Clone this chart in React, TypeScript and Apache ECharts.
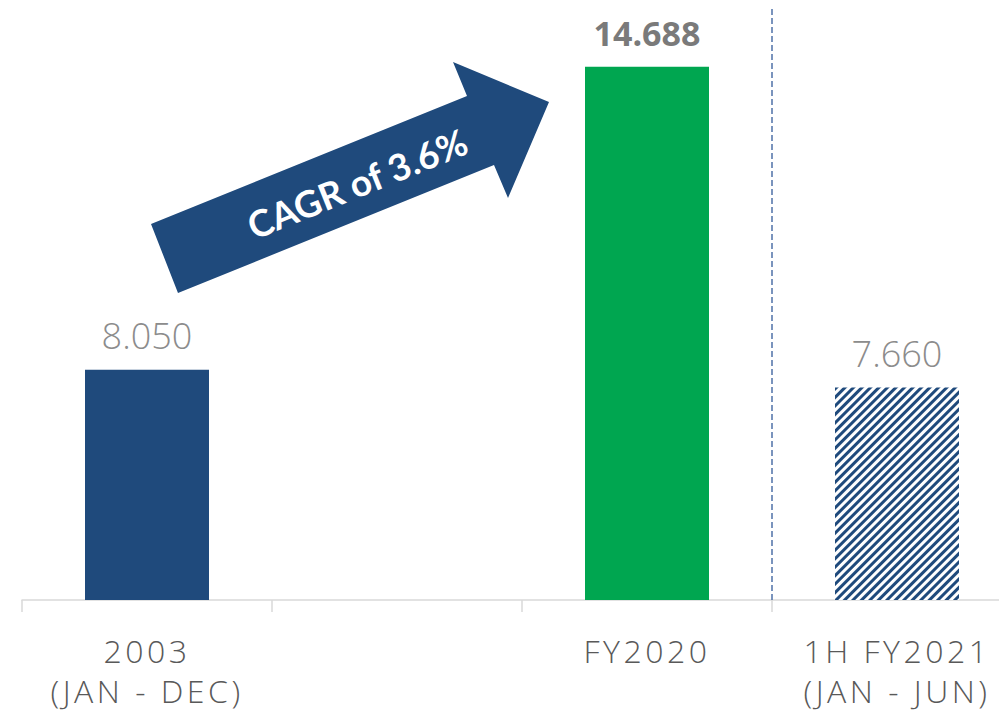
import React, { useEffect, useRef } from "react";
import * as echarts from "echarts";

const categories: string[] = ["2003\n(JAN - DEC)", "", "FY2020", "1H FY2021\n(JAN - JUN)"];
const values: (number | null)[] = [8.05, null, 14.688, 7.66];
const barKinds: string[] = ["solid", "none", "highlight", "hatched"];
const arrowText = "CAGR of 3.6%";
const dividerBefore = 3; // dashed divider sits before this category

const BLUE = "#1F4A7C";
const GREEN = "#00A650";

export default function App() {
  const ref = useRef<HTMLDivElement>(null);
  useEffect(() => {
    if (!ref.current) return;
    const chart = echarts.init(ref.current, null, { renderer: "svg" });
    const data = values.map((v, i) => {
      const kind = barKinds[i];
      if (v === null) return { value: null };
      if (kind === "highlight") {
        return {
          value: v,
          itemStyle: { color: GREEN },
          label: { fontWeight: "bold", fontSize: 34, color: "#7a7a7a", distance: 17 },
        };
      }
      if (kind === "hatched") {
        return {
          value: v,
          itemStyle: {
            color: "#ffffff",
            decal: {
              symbol: "rect",
              color: BLUE,
              backgroundColor: "#ffffff",
              dashArrayX: [1, 0],
              dashArrayY: [2.2, 2.2],
              rotation: -Math.PI / 4,
              symbolSize: 1,
            },
          },
        };
      }
      return { value: v, itemStyle: { color: BLUE } };
    });
    chart.setOption({
      animation: false,
      grid: { left: 22, top: 7, right: -23, bottom: 111, containLabel: false, outerBoundsMode: "none" },
      xAxis: {
        type: "category",
        data: categories,
        boundaryGap: true,
        axisLine: { show: true, lineStyle: { color: "#d9d9d9", width: 1.5 } },
        axisTick: { show: true, length: 12, lineStyle: { color: "#d9d9d9", width: 1.5 } },
        axisLabel: {
          interval: 0,
          margin: 30,
          fontSize: 32,
          lineHeight: 40,
          color: "#595959",
          fontFamily: "Open Sans",
          fontWeight: 300,
        },
        splitLine: { show: false },
      },
      yAxis: { type: "value", min: 3, max: 16, show: false, splitLine: { show: false } },
      series: [
        {
          type: "bar",
          data,
          barWidth: 124,
          label: {
            show: true,
            position: "top",
            distance: 16,
            fontSize: 36,
            color: "#8c8c8c",
            fontFamily: "Open Sans",
            fontWeight: 300,
            formatter: (p: any) => (p.value == null ? "" : Number(p.value).toFixed(3)),
          },
        },
      ],
      graphic: {
        elements: [
          {
            id: "arrow",
            type: "polygon",
            shape: {
              points: [
                [151, 224],
                [467, 96],
                [453, 62],
                [549, 102],
                [508, 198],
                [494, 165],
                [178, 293],
              ],
            },
            style: { fill: BLUE },
            z: 10,
          },
          {
            id: "arrowText",
            type: "text",
            x: 357,
            y: 183,
            rotation: (22 * Math.PI) / 180,
            style: {
              text: arrowText,
              fill: "#ffffff",
              font: "bold 37px Lato",
              align: "center",
              verticalAlign: "middle",
            },
            z: 11,
          },
        ],
      },
    });
    // dashed divider at the boundary between two categories, from the axis scale
    const cPrev = chart.convertToPixel({ xAxisIndex: 0 }, dividerBefore - 1) as number;
    const cNext = chart.convertToPixel({ xAxisIndex: 0 }, dividerBefore) as number;
    const xDiv = (cPrev + cNext) / 2;
    const yTop = chart.convertToPixel({ yAxisIndex: 0 }, 16) as number;
    const yBot = chart.convertToPixel({ yAxisIndex: 0 }, 3) as number;
    chart.setOption({
      graphic: {
        elements: [
          {
            id: "divider",
            type: "line",
            shape: { x1: xDiv, y1: yTop + 2, x2: xDiv, y2: yBot },
            style: { stroke: "#4F72A8", lineWidth: 1.5, lineDash: [6, 3] },
            z: 5,
          },
        ],
      },
    });
    // letter spacing for axis labels
    const texts = ref.current.querySelectorAll("text");
    texts.forEach((t) => {
      const s = t.textContent || "";
      if (/^(2003|\(JAN|FY2020|1H FY2021)/.test(s)) {
        t.setAttribute("letter-spacing", "3.5");
      }
    });
    return () => chart.dispose();
  }, []);
  return <div ref={ref} style={{ width: 999, height: 711, position: "absolute", left: 0, top: 0 }} />;
}
